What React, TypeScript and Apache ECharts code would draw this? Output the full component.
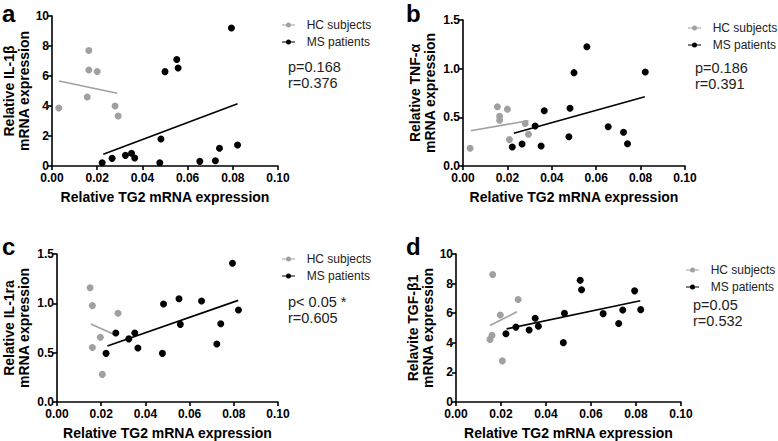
import React, { useEffect, useRef } from "react";
import * as echarts from "echarts";

// ---------- data ----------
const xTickLabels = ["0.00", "0.02", "0.04", "0.06", "0.08", "0.10"];
const xAxisTitle = "Relative TG2 mRNA expression";
const legendNames = ["HC subjects", "MS patients"];

// MS patients: relative TG2 mRNA expression (shared across panels)
const msTG2 = [0.0222, 0.0266, 0.0325, 0.0352, 0.0366, 0.0477, 0.0482, 0.05, 0.0552, 0.0558, 0.0654, 0.0723, 0.0741, 0.0794, 0.0821];

// Panel a: IL-1β
const aMs = [0.22, 0.51, 0.71, 0.85, 0.53, 0.22, 1.8, 6.29, 7.1, 6.53, 0.31, 0.35, 1.18, 9.2, 1.4];
const aHcX = [0.003, 0.0163, 0.0163, 0.02, 0.0156, 0.0279, 0.0293];
const aHcY = [3.87, 7.7, 6.4, 6.3, 4.6, 4.0, 3.33];
const aHcFit = [[0.0031, 5.67], [0.0289, 4.85]];
const aMsFit = [[0.0227, 0.78], [0.0821, 4.15]];

// Panel b: TNF-α
const bMs = [0.195, 0.226, 0.411, 0.205, 0.568, 0.301, 0.593, 0.959, null, 1.226, 0.404, 0.346, 0.229, null, 0.966];
const bHcX = [0.0032, 0.0155, 0.0165, 0.0165, 0.02, 0.0209, 0.028, 0.0295];
const bHcY = [0.182, 0.608, 0.511, 0.47, 0.584, 0.271, 0.436, 0.326];
const bHcFit = [[0.0035, 0.363], [0.0295, 0.465]];
const bMsFit = [[0.0229, 0.336], [0.0819, 0.712]];

// Panel c: IL-1ra
const cMs = [0.493, 0.7, 0.64, 0.7, 0.547, 0.493, 0.993, null, 1.047, 0.787, 1.023, 0.587, 0.793, 1.407, 0.933];
const cHcX = [0.015, 0.016, 0.016, 0.0196, 0.0205, 0.0276];
const cHcY = [1.157, 0.977, 0.553, 0.657, 0.28, 0.9];
const cHcFit = [[0.0153, 0.79], [0.0264, 0.68]];
const cMsFit = [[0.0228, 0.567], [0.082, 1.03]];

// Panel d: TGF-β1
const dMs = [4.61, 5.06, 4.86, 5.66, 5.12, 4.01, 5.99, null, 8.22, 7.59, 5.97, 5.3, 6.21, 7.51, 6.24];
const dHcX = [0.0163, 0.016, 0.0151, 0.0197, 0.0206, 0.0276];
const dHcY = [8.62, 4.5, 4.23, 5.88, 2.78, 6.93];
const dHcFit = [[0.0151, 5.17], [0.0271, 6.1]];
const dMsFit = [[0.0225, 4.94], [0.0819, 6.84]];

const statsText = ["p=0.168\nr=0.376", "p=0.186\nr=0.391", "p< 0.05 *\nr=0.605", "p=0.05\nr=0.532"];
const panelLetters = ["a", "b", "c", "d"];
const yTitles = [
  "Relative IL-1β\nmRNA expression",
  "Relative TNF-α\nmRNA expression",
  "Relative IL-1ra\nmRNA expression",
  "Relavite TGF-β1\nmRNA expression",
];
// ---------------------------------------------------

const FONT = "'Liberation Sans', Arial, Helvetica, sans-serif";
const GRAY = "#a0a0a0";
const BLACK = "#000";
const LEGEND_ICON = "path://M0,2.1H13V2.9H0Z M4,2.5A2.5,2.5,0,1,1,9,2.5A2.5,2.5,0,1,1,4,2.5Z";

const layouts = [
  { grid: { left: 52, top: 16, width: 226, height: 150 }, yGap: 20, letter: [2, 1], legend: [282, 19], stats: [288, 59] },
  { grid: { left: 463, top: 20, width: 222, height: 146 }, yGap: 26, letter: [406, 1], legend: [688, 22], stats: [695, 60] },
  { grid: { left: 52, top: 254, width: 226, height: 150 }, yGap: 26, letter: [2, 234], legend: [282, 253], stats: [288, 294] },
  { grid: { left: 456, top: 254, width: 225, height: 150 }, yGap: 20, letter: [406, 234], legend: [686, 264], stats: [693, 297] },
];

const yScales = [
  { max: 10, interval: 2, digits: 0 },
  { max: 1.5, interval: 0.5, digits: 1 },
  { max: 1.5, interval: 0.5, digits: 1 },
  { max: 10, interval: 2, digits: 0 },
];

const panelData = [
  { ms: aMs, hcX: aHcX, hcY: aHcY, hcFit: aHcFit, msFit: aMsFit },
  { ms: bMs, hcX: bHcX, hcY: bHcY, hcFit: bHcFit, msFit: bMsFit },
  { ms: cMs, hcX: cHcX, hcY: cHcY, hcFit: cHcFit, msFit: cMsFit },
  { ms: dMs, hcX: dHcX, hcY: dHcY, hcFit: dHcFit, msFit: dMsFit },
];

function buildOption() {
  const grid: any[] = [];
  const xAxis: any[] = [];
  const yAxis: any[] = [];
  const series: any[] = [];
  const legend: any[] = [];
  const title: any[] = [];

  panelData.forEach((p, i) => {
    const L = layouts[i];
    const ys = yScales[i];
    grid.push({ ...L.grid, containLabel: false });
    const axisLine = { show: true, lineStyle: { color: BLACK, width: 1.6 } };
    const axisTick = { show: true, length: 4, lineStyle: { color: BLACK, width: 1.6 } };
    xAxis.push({
      type: "value",
      gridIndex: i,
      min: 0,
      max: 0.1,
      interval: 0.02,
      axisLine,
      axisTick,
      splitLine: { show: false },
      axisLabel: {
        color: BLACK,
        fontFamily: FONT,
        fontWeight: "bold",
        fontSize: 12,
        margin: 6,
        formatter: (v: number) => xTickLabels[Math.round(v / 0.02)] ?? v.toFixed(2),
      },
      name: xAxisTitle,
      nameLocation: "middle",
      nameGap: 24,
      nameTextStyle: { color: BLACK, fontFamily: FONT, fontWeight: "bold", fontSize: 14 },
    });
    yAxis.push({
      type: "value",
      gridIndex: i,
      min: 0,
      max: ys.max,
      interval: ys.interval,
      axisLine,
      axisTick,
      splitLine: { show: false },
      axisLabel: {
        color: BLACK,
        fontFamily: FONT,
        fontWeight: "bold",
        fontSize: 12,
        margin: 3,
        formatter: (v: number) => v.toFixed(ys.digits),
      },
      name: yTitles[i],
      nameLocation: "middle",
      nameGap: L.yGap,
      nameTextStyle: { color: BLACK, fontFamily: FONT, fontWeight: "bold", fontSize: 14, lineHeight: 15 },
    });

    const hcPoints = p.hcX.map((x, k) => [x, p.hcY[k]]);
    const msPoints = msTG2.map((x, k) => [x, p.ms[k]]).filter((d) => d[1] !== null);

    series.push({
      name: legendNames[0],
      type: "scatter",
      xAxisIndex: i,
      yAxisIndex: i,
      data: hcPoints,
      symbol: "circle",
      symbolSize: 7,
      itemStyle: { color: GRAY, opacity: 1 },
      z: 3,
    });
    series.push({
      name: legendNames[1],
      type: "scatter",
      xAxisIndex: i,
      yAxisIndex: i,
      data: msPoints,
      symbol: "circle",
      symbolSize: 7,
      itemStyle: { color: BLACK, opacity: 1 },
      z: 4,
    });
    series.push({
      name: "HC fit",
      type: "line",
      xAxisIndex: i,
      yAxisIndex: i,
      data: p.hcFit,
      showSymbol: false,
      symbol: "none",
      lineStyle: { color: GRAY, width: 1.6 },
      itemStyle: { color: GRAY },
      z: 2,
    });
    series.push({
      name: "MS fit",
      type: "line",
      xAxisIndex: i,
      yAxisIndex: i,
      data: p.msFit,
      showSymbol: false,
      symbol: "none",
      lineStyle: { color: BLACK, width: 1.6 },
      itemStyle: { color: BLACK },
      z: 2,
    });

    legend.push({
      left: L.legend[0],
      top: L.legend[1],
      orient: "vertical",
      padding: 0,
      itemWidth: 13,
      itemHeight: 5,
      itemGap: 5,
      selectedMode: false,
      formatter: (name: string) => "  " + name,
      textStyle: { color: "#222", fontFamily: FONT, fontSize: 12 },
      data: [
        { name: legendNames[0], icon: LEGEND_ICON },
        { name: legendNames[1], icon: LEGEND_ICON },
      ],
    });

    title.push({
      text: panelLetters[i],
      left: L.letter[0],
      top: L.letter[1],
      padding: 0,
      textStyle: { color: BLACK, fontFamily: FONT, fontWeight: "bold", fontSize: 24 },
    });
    title.push({
      text: statsText[i],
      left: L.stats[0],
      top: L.stats[1],
      padding: 0,
      textStyle: { color: "#222", fontFamily: FONT, fontWeight: "normal", fontSize: 14.5, lineHeight: 16 },
    });
  });

  return {
    animation: false,
    backgroundColor: "#fff",
    grid,
    xAxis,
    yAxis,
    series,
    legend,
    title,
  };
}

export default function App() {
  const ref = useRef<HTMLDivElement>(null);
  useEffect(() => {
    if (!ref.current) return;
    const chart = echarts.init(ref.current, undefined, { renderer: "svg" });
    chart.setOption(buildOption() as any);
    return () => chart.dispose();
  }, []);
  return (
    <div
      ref={ref}
      style={{ position: "fixed", left: 0, top: 0, width: 778, height: 441, background: "#fff" }}
    />
  );
}
